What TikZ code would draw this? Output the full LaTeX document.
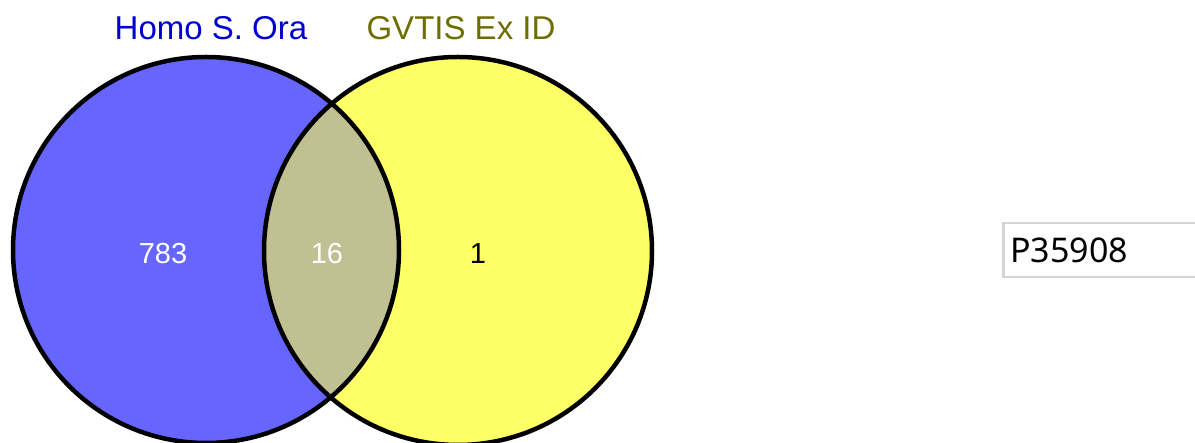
\documentclass[tikz,border=0pt]{standalone}
\usepackage{fontspec}
\setmainfont{Liberation Sans}
\newfontfamily\idfont{Noto Sans}
\usetikzlibrary{positioning}
\definecolor{SetA}{HTML}{6666FF}
\definecolor{SetB}{HTML}{FFFF66}
\definecolor{SetAB}{HTML}{C0C093}
\definecolor{TitleA}{HTML}{0000CC}
\definecolor{TitleB}{HTML}{6E6E00}
\definecolor{BoxLine}{HTML}{D4D4D4}

\tikzset{
  ring/.style={draw=black, line width=4.5pt},
  title/.style={font=\fontsize{33}{33}\selectfont},
  count/.style={font=\fontsize{29}{29}\selectfont},
}

\begin{document}
\begin{tikzpicture}[x=1pt,y=1pt]
  \useasboundingbox (0,0) rectangle (1195,443);
  % the two sets
  \fill[SetA] (206,193) circle (193);
  \fill[SetB] (458,192) circle (194);
  \begin{scope}
    \clip (206,193) circle (193);
    \fill[SetAB] (458,192) circle (194);
  \end{scope}
  \draw[ring] (206,193) circle (193);
  \draw[ring] (458,192) circle (194);
  % titles
  \node[title, text=TitleA] (titleA) at (211,415) {Homo S. Ora};
  \node[title, text=TitleB] (titleB) at (461,415) {GVTIS Ex ID};
  % counts
  \node[count, text=white] (onlyA) at (163,189) {783};
  \node[count, text=white] (both) at (327,189) {16};
  \node[count, text=black] (onlyB) at (478,189) {1};
  % id box
  \node[draw=BoxLine, line width=2.5pt, anchor=west,
        minimum height=54pt, text width=200pt, inner xsep=7pt,
        align=left, font=\idfont\fontsize{34}{34}\selectfont] (idbox) at (1002,193) {P35908};
\end{tikzpicture}
\end{document}
